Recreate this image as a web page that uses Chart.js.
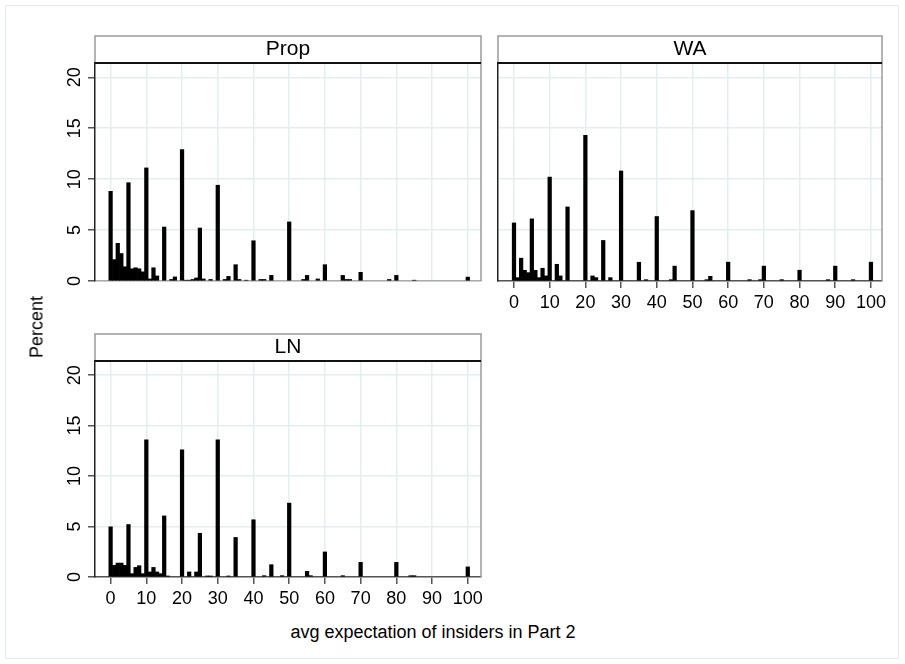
<!DOCTYPE html>
<html>
<head>
<meta charset="utf-8">
<script src="https://cdn.jsdelivr.net/npm/chart.js@4.4.1/dist/chart.umd.min.js"></script>
<style>
html,body{margin:0;padding:0;background:#fff;}
body{width:905px;height:664px;position:relative;overflow:hidden;font-family:"Liberation Sans",Arial,Helvetica,sans-serif;color:#000;}
.frame{position:absolute;left:5px;top:5px;width:894px;height:654px;border:1px solid #e6ecee;box-sizing:border-box;}
canvas{position:absolute;}
#cProp{left:0;top:0;}
#cWA{left:490px;top:0;}
#cLN{left:0;top:300px;}
.ytitle{position:absolute;left:37px;top:327px;transform:translate(-50%,-50%) rotate(-90deg);font-size:18px;white-space:nowrap;}
.xtitle{position:absolute;left:433px;top:632px;transform:translate(-50%,-50%);font-size:18px;white-space:nowrap;}
</style>
</head>
<body>
<div class="frame"></div>
<canvas id="cProp" width="490" height="295"></canvas>
<canvas id="cWA" width="415" height="320"></canvas>
<canvas id="cLN" width="490" height="320"></canvas>
<div class="ytitle">Percent</div>
<div class="xtitle">avg expectation of insiders in Part 2</div>
<script>
// ---- data (percent of observations per unit-width bin) ----
const panelTitles = ['Prop', 'WA', 'LN'];
const xTickStep = 10;
const yTickStep = 5;

const propX   = [0,1,2,3,4,5,6,7,8,9,10,11,12,13,15,17,18,20,21,22,23,24,25,26,28,30,32,33,35,36,38,40,42,43,45,50,54,55,58,60,65,66,67,70,78,80,85,100];
const propPct = [8.8,2.1,3.7,2.7,1.4,9.65,1.2,1.3,1.2,0.9,11.1,0.2,1.3,0.5,5.3,0.15,0.4,12.9,0.08,0.08,0.15,0.3,5.2,0.2,0.15,9.4,0.15,0.45,1.6,0.15,0.08,3.95,0.15,0.15,0.55,5.8,0.15,0.55,0.2,1.6,0.55,0.15,0.15,0.85,0.15,0.55,0.08,0.38];

const waX   = [0,1,2,3,4,5,6,7,8,9,10,12,13,15,20,22,23,25,27,30,35,37,40,44,45,50,54,55,60,66,69,70,75,80,88,90,95,100];
const waPct = [5.7,0.33,2.24,1.05,0.82,6.1,1.05,0.33,1.25,0.5,10.2,1.64,0.5,7.27,14.3,0.5,0.33,3.98,0.33,10.8,1.84,0.13,6.33,0.13,1.46,6.91,0.13,0.46,1.85,0.13,0.13,1.46,0.13,1.06,0.13,1.46,0.13,1.85];

const lnX   = [0,1,2,3,4,5,6,7,8,9,10,11,12,13,14,15,16,20,22,24,25,27,28,30,33,35,40,43,45,48,50,55,56,60,65,70,80,84,85,100];
const lnPct = [4.97,1.15,1.38,1.38,1.15,5.2,0.33,0.95,1.12,0.33,13.6,0.5,0.95,0.5,0.33,6.05,0.1,12.6,0.5,0.5,4.33,0.1,0.1,13.6,0.1,3.92,5.67,0.13,1.22,0.13,7.32,0.56,0.13,2.48,0.13,1.45,1.45,0.13,0.13,1.0];

// ---- rendering ----
const family = '"Liberation Sans", Arial, Helvetica, sans-serif';
const gridColor = '#e4eef0';

function pairs(xs, ys) { return xs.map((x, i) => ({ x: x, y: ys[i] })); }

const panelFrame = {
  id: 'panelFrame',
  beforeDraw(chart, args, o) {
    const { ctx, chartArea: a } = chart;
    const h = o.headerHeight;
    ctx.save();
    ctx.fillStyle = '#fff';
    ctx.fillRect(a.left, a.top - h, a.right - a.left, h);
    ctx.strokeStyle = '#9a9a9a';
    ctx.lineWidth = 1.5;
    ctx.strokeRect(a.left, a.top - h, a.right - a.left, h);
    ctx.restore();
  },
  afterDatasetsDraw(chart) {
    const { ctx, chartArea: a } = chart;
    ctx.save();
    ctx.strokeStyle = '#9a9a9a';
    ctx.lineWidth = 1.5;
    ctx.beginPath(); ctx.moveTo(a.right, a.top); ctx.lineTo(a.right, a.bottom); ctx.stroke();
    ctx.strokeStyle = '#111';
    ctx.lineWidth = 2;
    ctx.beginPath(); ctx.moveTo(a.left, a.top); ctx.lineTo(a.right, a.top); ctx.stroke();
    ctx.restore();
  }
};

function panel(id, title, xs, ys, cfg) {
  return new Chart(document.getElementById(id), {
    type: 'bar',
    data: {
      datasets: [{
        data: pairs(xs, ys),
        backgroundColor: '#000',
        borderWidth: 0,
        barPercentage: 1,
        categoryPercentage: 1
      }]
    },
    options: {
      responsive: false,
      animation: false,
      layout: { autoPadding: false, padding: cfg.padding },
      plugins: {
        legend: { display: false },
        tooltip: { enabled: false },
        title: {
          display: true, text: title, fullSize: false,
          padding: { top: 1, bottom: 2 }, color: '#000',
          font: { family: family, size: 21, weight: 'normal', lineHeight: 24 / 21 }
        },
        panelFrame: { headerHeight: 27 }
      },
      scales: {
        x: {
          type: 'linear', min: cfg.xMin, max: cfg.xMax, offset: false,
          afterFit: s => { s.height = cfg.xHeight; },
          grid: { color: gridColor, lineWidth: 1.5, offset: false, drawTicks: cfg.xLabels,
                  tickLength: 7, tickColor: '#555', tickWidth: 1.5 },
          border: { display: true, color: cfg.xLabels ? '#555' : '#aaa', width: 1.5 },
          ticks: { display: cfg.xLabels, stepSize: xTickStep, includeBounds: false, autoSkip: false,
                   maxRotation: 0, padding: 4, color: '#000', font: { family: family, size: 18 } }
        },
        y: {
          type: 'linear', min: 0, max: 21.4,
          afterFit: s => { s.width = cfg.yWidth; },
          grid: { color: gridColor, lineWidth: 1.5, drawTicks: cfg.yLabels,
                  tickLength: 7, tickColor: '#555', tickWidth: 1.5 },
          border: { display: true, color: '#222', width: 1.5 },
          ticks: { display: cfg.yLabels, stepSize: yTickStep, includeBounds: false,
                   minRotation: 90, maxRotation: 90, crossAlign: 'center', padding: 3,
                   color: '#000', font: { family: family, size: 18 } }
        }
      }
    },
    plugins: [panelFrame]
  });
}

panel('cProp', panelTitles[0], propX, propPct, {
  padding: { top: 36, left: 0, right: 9, bottom: 14 },
  xMin: -4.37, xMax: 103.7, xHeight: 0, yWidth: 95, xLabels: false, yLabels: true
});
panel('cWA', panelTitles[1], waX, waPct, {
  padding: { top: 36, left: 8, right: 23, bottom: 9 },
  xMin: -4.48, xMax: 103.1, xHeight: 30, yWidth: 0, xLabels: true, yLabels: false
});
panel('cLN', panelTitles[2], lnX, lnPct, {
  padding: { top: 34, left: 0, right: 9, bottom: 13 },
  xMin: -4.37, xMax: 103.7, xHeight: 30, yWidth: 95, xLabels: true, yLabels: true
});
</script>
</body>
</html>
